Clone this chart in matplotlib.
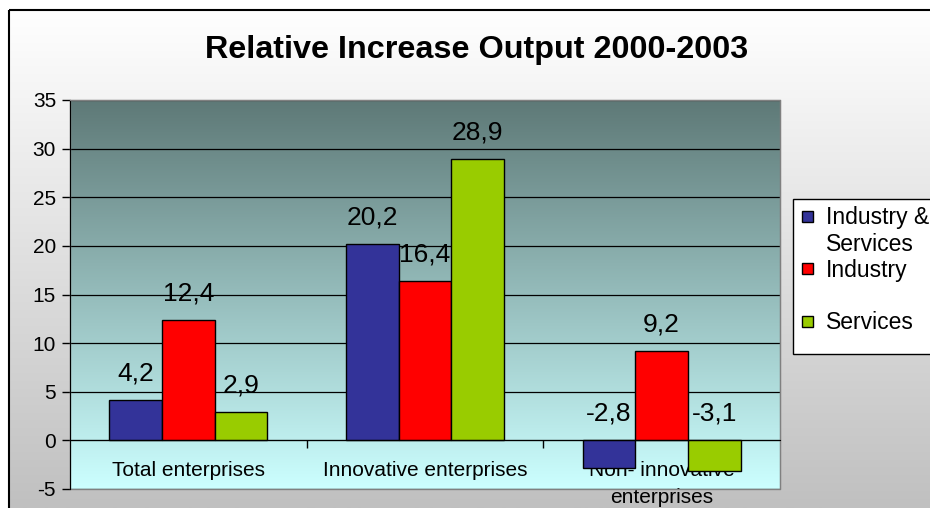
import numpy as np
import matplotlib
matplotlib.use('Agg')
import matplotlib.pyplot as plt
from matplotlib.patches import Rectangle
from matplotlib.colors import LinearSegmentedColormap

# ---- data ----
title = "Relative Increase Output 2000-2003"
categories = ["Total enterprises", "Innovative enterprises", "Non- innovative\nenterprises"]
series_names = ["Industry &\nServices", "Industry", "Services"]
industry_services = [4.2, 20.2, -2.8]
industry = [12.4, 16.4, 9.2]
services = [2.9, 28.9, -3.1]
series_values = [industry_services, industry, services]
series_colors = ["#333399", "#FF0000", "#99CC00"]
yticks = [-5, 0, 5, 10, 15, 20, 25, 30, 35]

plt.rcParams['font.family'] = ['Liberation Sans', 'DejaVu Sans']

W, H = 930, 508
fig = plt.figure(figsize=(W / 100, H / 100), dpi=100)
fig.patch.set_facecolor('white')

# ---- chart area background (gradient white -> gray) with frame ----
bg = fig.add_axes([0, 0, 1, 1], zorder=-10)
bg.set_axis_off()
grad = np.linspace(0, 1, 256).reshape(-1, 1)
cm_bg = LinearSegmentedColormap.from_list('bg', ['#FFFFFF', '#C0C0C0'])
fl = 9 / W
ft = 1 - 10 / H
bg.imshow(grad, cmap=cm_bg, extent=[fl, 1, 0, ft], aspect='auto', origin='upper')
bg.plot([fl, fl], [0, ft], color='black', lw=1.5, solid_capstyle='butt')
bg.plot([fl, 1], [ft, ft], color='black', lw=1.5, solid_capstyle='butt')
bg.set_xlim(0, 1)
bg.set_ylim(0, 1)

# ---- plot area ----
ax = fig.add_axes([70 / W, 1 - 489 / H, 710 / W, 389 / H])
ax.set_xlim(-0.5, len(categories) - 0.5)
ax.set_ylim(yticks[0], yticks[-1])
cm_plot = LinearSegmentedColormap.from_list('pl', ['#5E7977', '#CCFFFF'])
ax.imshow(grad, cmap=cm_plot, extent=[-0.5, len(categories) - 0.5, yticks[0], yticks[-1]],
          aspect='auto', origin='upper', zorder=-1)

ax.set_axisbelow(True)
ax.yaxis.grid(True, color='black', lw=0.9)
ax.set_yticks(yticks)
ax.set_yticklabels([str(t) for t in yticks])
ax.tick_params(axis='y', direction='out', length=6, width=1, pad=4, labelsize=15, colors='black')

# bars
n = len(series_values)
bw = 1 / (n + 1.5)
x = np.arange(len(categories))
for i, (vals, col) in enumerate(zip(series_values, series_colors)):
    xs = x + (i - (n - 1) / 2) * bw
    ax.bar(xs, vals, width=bw, color=col, edgecolor='black', linewidth=1, zorder=2)
    for xx, v in zip(xs, vals):
        ax.annotate(f"{v:.1f}".replace('.', ','), (xx, max(v, 0)), xytext=(0, 19),
                    textcoords='offset points', ha='center', va='center', fontsize=19, zorder=3)

# category axis at zero
ax.spines['bottom'].set_position(('data', 0))
ax.spines['bottom'].set_color('black')
ax.spines['left'].set_color('black')
ax.spines['top'].set_color('#808080')
ax.spines['right'].set_color('#808080')
ax.add_patch(Rectangle((0, 0), 1, 1, transform=ax.transAxes, fill=False,
                       edgecolor='#808080', lw=1, zorder=1, clip_on=False))
ax.set_xticks(x)
ax.set_xticklabels(categories)
ax.tick_params(axis='x', which='major', length=0, pad=15, labelsize=15)
for lbl in ax.get_xticklabels():
    lbl.set_linespacing(1.5)
ax.set_xticks(x[:-1] + 0.5, minor=True)
ax.tick_params(axis='x', which='minor', direction='out', length=6, width=1, color='black')

# title
fig.text(477 / W, 1 - 50 / H, title, ha='center', va='center', fontsize=23.3, fontweight='bold')

# ---- legend (manual, Excel-like) ----
fig.patches.append(Rectangle((793 / W, 1 - 354 / H), 147 / W, 155 / H, transform=fig.transFigure,
                             facecolor='white', edgecolor='black', lw=1, zorder=5))
sq = 11
for i, (name, col) in enumerate(zip(series_names, series_colors)):
    cy = 216 + i * 52.5
    fig.patches.append(Rectangle((802 / W, 1 - (cy + sq / 2) / H), sq / W, sq / H,
                                 transform=fig.transFigure, facecolor=col, edgecolor='black',
                                 lw=1, zorder=6))
    fig.text(826 / W, 1 - (cy - 10) / H, name, ha='left', va='top', fontsize=16.5,
             linespacing=1.2, zorder=7)

fig.savefig('out.png', dpi=100)
